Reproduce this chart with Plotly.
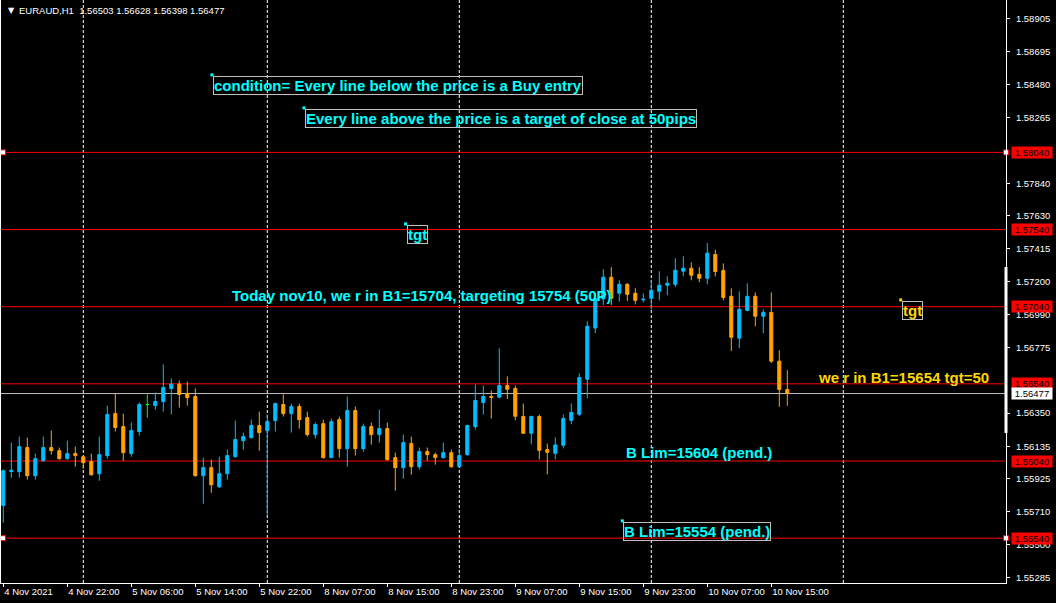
import plotly.graph_objects as go

# ---------------- data ----------------
header_text = "EURAUD,H1  1.56503 1.56628 1.56398 1.56477"

open_ = [1.55752, 1.55972, 1.55971, 1.56127, 1.55945, 1.56042, 1.56127, 1.56107, 1.56055, 1.56088,
         1.56068, 1.56036, 1.55958, 1.56075, 1.56347, 1.56263, 1.56088, 1.56231, 1.56406, 1.56399,
         1.56425, 1.56510, 1.56538, 1.56477, 1.56458, 1.55945, 1.55997, 1.55873, 1.55958, 1.56068,
         1.56172, 1.56192, 1.56270, 1.56237, 1.56302, 1.56406, 1.56347, 1.56393, 1.56321, 1.56211,
         1.56282, 1.56062, 1.56308, 1.56120, 1.56367, 1.56120, 1.56263, 1.56211, 1.56250, 1.56062,
         1.55997, 1.56153, 1.56003, 1.56101, 1.56081, 1.56062, 1.56094, 1.56003, 1.56081, 1.56263,
         1.56419, 1.56458, 1.56454, 1.56529, 1.56510, 1.56328, 1.56220, 1.56328, 1.56114, 1.56090,
         1.56142, 1.56304, 1.56343, 1.56570, 1.56902, 1.57090, 1.57231, 1.57127, 1.57185, 1.57127,
         1.57084, 1.57094, 1.57140, 1.57179, 1.57185, 1.57270, 1.57289, 1.57250, 1.57224, 1.57378,
         1.57274, 1.57107, 1.56836, 1.57016, 1.57107, 1.56978, 1.57003, 1.56687, 1.56503]
high = [1.55985, 1.56159, 1.56198, 1.56192, 1.56088, 1.56198, 1.56237, 1.56127, 1.56172, 1.56133,
        1.56072, 1.56088, 1.56198, 1.56399, 1.56477, 1.56347, 1.56289, 1.56419, 1.56471, 1.56484,
        1.56666, 1.56575, 1.56562, 1.56555, 1.56510, 1.56062, 1.56049, 1.56068, 1.56114, 1.56302,
        1.56224, 1.56308, 1.56360, 1.56341, 1.56419, 1.56471, 1.56412, 1.56412, 1.56360, 1.56289,
        1.56308, 1.56315, 1.56328, 1.56458, 1.56393, 1.56282, 1.56289, 1.56373, 1.56289, 1.56094,
        1.56211, 1.56198, 1.56127, 1.56127, 1.56094, 1.56159, 1.56114, 1.56120, 1.56276, 1.56536,
        1.56529, 1.56497, 1.56770, 1.56588, 1.56529, 1.56412, 1.56334, 1.56341, 1.56153, 1.56192,
        1.56341, 1.56412, 1.56607, 1.56945, 1.57127, 1.57283, 1.57296, 1.57211, 1.57192, 1.57159,
        1.57127, 1.57211, 1.57270, 1.57237, 1.57354, 1.57367, 1.57328, 1.57296, 1.57452, 1.57410,
        1.57320, 1.57158, 1.57139, 1.57191, 1.57132, 1.57023, 1.57132, 1.56758, 1.56628]
low = [1.55640, 1.55932, 1.55932, 1.55919, 1.55919, 1.56036, 1.56081, 1.56049, 1.56049, 1.56003,
       1.55990, 1.55945, 1.55912, 1.56055, 1.56231, 1.56042, 1.56068, 1.56205, 1.56321, 1.56373,
       1.56360, 1.56341, 1.56386, 1.56399, 1.55938, 1.55763, 1.55834, 1.55866, 1.55919, 1.56062,
       1.56114, 1.56185, 1.56107, 1.55685, 1.56231, 1.56328, 1.56224, 1.56250, 1.56198, 1.56185,
       1.56055, 1.56058, 1.56062, 1.56003, 1.56075, 1.56101, 1.56146, 1.56159, 1.56042, 1.55847,
       1.55925, 1.55951, 1.55984, 1.56042, 1.56016, 1.56055, 1.55997, 1.55997, 1.56075, 1.56244,
       1.56341, 1.56315, 1.56445, 1.56441, 1.56304, 1.56215, 1.56148, 1.56051, 1.55953, 1.56051,
       1.56122, 1.56278, 1.56332, 1.56447, 1.56869, 1.57051, 1.57051, 1.57073, 1.57077, 1.57055,
       1.57068, 1.57023, 1.57081, 1.57114, 1.57166, 1.57237, 1.57211, 1.57198, 1.57185, 1.57236,
       1.57081, 1.56752, 1.56771, 1.57010, 1.56913, 1.56868, 1.56675, 1.56391, 1.56398]
close = [1.55977, 1.55980, 1.56133, 1.55945, 1.56055, 1.56127, 1.56107, 1.56055, 1.56088, 1.56075,
         1.56029, 1.55951, 1.56081, 1.56341, 1.56257, 1.56094, 1.56237, 1.56406, 1.56406, 1.56425,
         1.56516, 1.56538, 1.56471, 1.56451, 1.55945, 1.55997, 1.55886, 1.55958, 1.56075, 1.56179,
         1.56198, 1.56270, 1.56224, 1.56295, 1.56412, 1.56347, 1.56393, 1.56308, 1.56211, 1.56276,
         1.56062, 1.56295, 1.56120, 1.56367, 1.56120, 1.56263, 1.56211, 1.56250, 1.56049, 1.55997,
         1.56159, 1.56003, 1.56101, 1.56081, 1.56062, 1.56094, 1.56003, 1.56075, 1.56270, 1.56432,
         1.56458, 1.56452, 1.56529, 1.56505, 1.56330, 1.56220, 1.56328, 1.56109, 1.56096, 1.56144,
         1.56315, 1.56354, 1.56581, 1.56913, 1.57094, 1.57231, 1.57094, 1.57185, 1.57120, 1.57081,
         1.57088, 1.57146, 1.57179, 1.57192, 1.57276, 1.57289, 1.57244, 1.57224, 1.57387, 1.57268,
         1.57100, 1.56842, 1.57023, 1.57107, 1.56978, 1.57003, 1.56687, 1.56503, 1.56477]

time_tick_bars = [0, 8, 16, 24, 32, 40, 48, 56, 64, 72, 80, 88, 96]
time_tick_text = ["4 Nov 2021", "4 Nov 22:00", "5 Nov 06:00", "5 Nov 14:00", "5 Nov 22:00",
                  "8 Nov 07:00", "8 Nov 15:00", "8 Nov 23:00", "9 Nov 07:00", "9 Nov 15:00",
                  "9 Nov 23:00", "10 Nov 07:00", "10 Nov 15:00"]
day_start_bars = [10, 33, 57, 81, 105]

price_ticks = [1.58905, 1.58695, 1.58480, 1.58265, 1.57840, 1.57630, 1.57415, 1.57200,
               1.56990, 1.56775, 1.56350, 1.56135, 1.55925, 1.55710, 1.55500, 1.55285]

levels = [1.58040, 1.57540, 1.57040, 1.56540, 1.56040, 1.55540]
selected_levels = [1.58040, 1.55540]
bid_price = 1.56477
scale_bar = [1.56221, 1.57297]

note_text = ["condition= Every line below the price is a Buy entry",
             "Every line above the price is a target of close at 50pips",
             "tgt",
             "Today nov10, we r in B1=15704, targeting 15754 (50P)",
             "tgt",
             "we r in B1=15654 tgt=50",
             "B Lim=15604 (pend.)",
             "B Lim=15554 (pend.)"]
note_bar = [26.2, 37.7, 50.4, 28.5, 112.3, 101.7, 77.7, 77.5]
note_price = [1.58535, 1.58321, 1.57569, 1.57174, 1.57077, 1.56643, 1.56157, 1.55645]
note_color = ["#00FFFF", "#00FFFF", "#00FFFF", "#00FFFF", "#FFD700", "#FFD700", "#00FFFF", "#00FFFF"]
note_boxed = [True, True, True, False, True, False, False, True]

# ---------------- styling ----------------
BULL = "#00BFFF"
BEAR = "#FFA500"
DOJI = "#00FF00"
FONT = "Liberation Sans"
X_RANGE = [-0.2875, 125.3375]
Y_RANGE = [1.5524944, 1.5902728]

idx = list(range(len(open_)))
doji = [i for i in idx if open_[i] == close[i]]
normal = [i for i in idx if open_[i] != close[i]]

fig = go.Figure()


def pick(arr, sel):
    return [arr[i] for i in sel]


fig.add_trace(go.Candlestick(
    x=normal, open=pick(open_, normal), high=pick(high, normal),
    low=pick(low, normal), close=pick(close, normal),
    increasing=dict(line=dict(color=BULL, width=1), fillcolor=BULL),
    decreasing=dict(line=dict(color=BEAR, width=1), fillcolor=BEAR),
    whiskerwidth=0, hoverinfo="skip", showlegend=False))
fig.add_trace(go.Candlestick(
    x=doji, open=pick(open_, doji), high=pick(high, doji),
    low=pick(low, doji), close=pick(close, doji),
    increasing=dict(line=dict(color=DOJI, width=1), fillcolor=DOJI),
    decreasing=dict(line=dict(color=DOJI, width=1), fillcolor=DOJI),
    whiskerwidth=0, hoverinfo="skip", showlegend=False))

# selection handles on selected horizontal lines
hx, hy = [], []
for lv in selected_levels:
    hx += [X_RANGE[0] + 0.25, X_RANGE[1]]
    hy += [lv, lv]
fig.add_trace(go.Scatter(x=hx, y=hy, mode="markers", cliponaxis=False, hoverinfo="skip",
                         marker=dict(symbol="square", size=5, color="white",
                                     line=dict(color="#FF0000", width=1)),
                         showlegend=False))

# anchor points of selected text objects
ax_ = [note_bar[k] - 0.12 for k in range(len(note_text)) if note_boxed[k]]
ay_ = [note_price[k] + 0.00007 for k in range(len(note_text)) if note_boxed[k]]
ac_ = [note_color[k] for k in range(len(note_text)) if note_boxed[k]]
fig.add_trace(go.Scatter(x=ax_, y=ay_, mode="markers", cliponaxis=False, hoverinfo="skip",
                         marker=dict(symbol="square", size=3, color=ac_),
                         showlegend=False))

shapes = []
for d in day_start_bars:
    shapes.append(dict(type="line", xref="x", yref="paper", x0=d, x1=d, y0=0, y1=1,
                       line=dict(color="white", width=1, dash="3px,2px"), layer="below"))
for lv in levels:
    shapes.append(dict(type="line", xref="paper", yref="y", x0=0, x1=1, y0=lv, y1=lv,
                       line=dict(color="#FF0000", width=1), layer="below"))
shapes.append(dict(type="line", xref="paper", yref="y", x0=0, x1=1, y0=bid_price, y1=bid_price,
                   line=dict(color="#C0C0C0", width=1), layer="below"))
shapes.append(dict(type="line", xref="paper", yref="y", x0=1, x1=1, y0=scale_bar[0], y1=scale_bar[1],
                   line=dict(color="white", width=3), layer="above"))

annotations = []
annotations.append(dict(xref="paper", yref="paper", x=0, y=1, xshift=5, yshift=-10,
                        xanchor="left", yanchor="middle", text="▼", showarrow=False,
                        font=dict(family="DejaVu Sans", size=8, color="white")))
annotations.append(dict(xref="paper", yref="paper", x=0, y=1, xshift=16, yshift=-10,
                        xanchor="left", yanchor="middle", text=header_text, showarrow=False,
                        font=dict(family=FONT, size=9.5, color="white")))
for lv in levels:
    annotations.append(dict(xref="paper", yref="y", x=1, y=lv, xanchor="left", yanchor="middle",
                            xshift=5, text=f"{lv:.5f}", showarrow=False, bgcolor="#FF0000",
                            width=40, borderpad=0,
                            font=dict(family=FONT, size=9.5, color="black")))
annotations.append(dict(xref="paper", yref="y", x=1, y=bid_price, xanchor="left", yanchor="middle",
                        xshift=5, text=f"{bid_price:.5f}", showarrow=False, bgcolor="white",
                        width=40, borderpad=0,
                        font=dict(family=FONT, size=9.5, color="black")))
for k, t in enumerate(note_text):
    a = dict(xref="x", yref="y", x=note_bar[k], y=note_price[k], xanchor="left", yanchor="top",
             text=f"<b>{t}</b>", showarrow=False, borderpad=0,
             font=dict(family=FONT, size=15, color=note_color[k]))
    if note_boxed[k]:
        a.update(bordercolor="#C0C0C0", borderwidth=1)
    annotations.append(a)

axis_font = dict(family=FONT, size=9.5, color="white")
fig.update_layout(
    width=1056, height=603,
    margin=dict(l=1, r=50, t=0, b=20, autoexpand=False),
    paper_bgcolor="black", plot_bgcolor="black",
    boxgap=0.45,
    showlegend=False,
    shapes=shapes, annotations=annotations,
    xaxis=dict(range=X_RANGE, showgrid=False, zeroline=False, showline=True, linecolor="white",
               linewidth=1, ticks="outside", ticklen=3, tickcolor="white",
               tickvals=time_tick_bars, ticktext=time_tick_text, tickangle=0,
               ticklabelposition="outside right", tickfont=axis_font, automargin=False,
               rangeslider=dict(visible=False), fixedrange=True),
    yaxis=dict(range=Y_RANGE, side="right", showgrid=False, zeroline=False, showline=True,
               mirror=True, linecolor="white", linewidth=1, ticks="outside", ticklen=3,
               tickcolor="white", tickvals=price_ticks, automargin=False,
               ticktext=[f"{p:.5f}" for p in price_ticks], tickfont=axis_font,
               ticklabelstandoff=4, fixedrange=True),
)

fig.write_html(
    "out.html",
    config={"displayModeBar": False},
    post_script="document.body.style.margin='0px';document.body.style.background='black';",
)
